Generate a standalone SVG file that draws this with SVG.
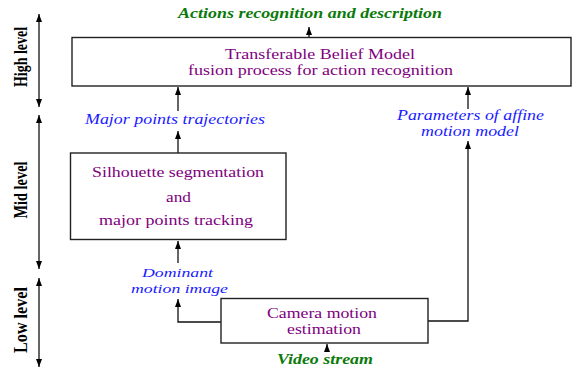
<svg xmlns="http://www.w3.org/2000/svg" width="572" height="367" viewBox="0 0 572 367">
<defs>
<marker id="ah" viewBox="0 0 8 6" refX="8" refY="3" markerWidth="8" markerHeight="6" orient="auto-start-reverse" markerUnits="userSpaceOnUse">
<path d="M0,0 L8,3 L0,6 Z" fill="#000"/>
</marker>
<style>
.box{fill:#fff;stroke:#222;stroke-width:1.4}
.ln{fill:none;stroke:#111;stroke-width:1.3}
text{font-family:'Liberation Serif','DejaVu Serif',serif}
.pt{font-size:15.5px;fill:#800080}
.bl{font-style:italic;font-size:15.5px;fill:#1a1aff}
.sm{font-size:13.5px}
.gr{font-style:italic;font-weight:bold;font-size:14.5px;fill:#0b7a0b}
.lv{font-weight:bold;font-size:15px;fill:#000}
</style>
</defs>
<rect width="572" height="367" fill="#fff"/>

<g id="levels">
<line class="ln" x1="39" y1="14" x2="39" y2="107" marker-start="url(#ah)" marker-end="url(#ah)"/>
<line class="ln" x1="39" y1="115" x2="39" y2="269" marker-start="url(#ah)" marker-end="url(#ah)"/>
<line class="ln" x1="39" y1="278" x2="39" y2="367" marker-start="url(#ah)" marker-end="url(#ah)"/>
<text class="lv" transform="translate(27,57) scale(1.2,1) rotate(-90)" text-anchor="middle" textLength="60" lengthAdjust="spacingAndGlyphs">High level</text>
<text class="lv" transform="translate(27,190) scale(1.2,1) rotate(-90)" text-anchor="middle" textLength="57" lengthAdjust="spacingAndGlyphs">Mid level</text>
<text class="lv" transform="translate(27,320) scale(1.2,1) rotate(-90)" text-anchor="middle" textLength="66" lengthAdjust="spacingAndGlyphs">Low level</text>
</g>

<g id="connectors">
<line class="ln" x1="309" y1="37" x2="309" y2="27" marker-end="url(#ah)"/>
<line class="ln" x1="178" y1="111" x2="178" y2="87" marker-end="url(#ah)"/>
<line class="ln" x1="178" y1="153" x2="178" y2="131" marker-end="url(#ah)"/>
<line class="ln" x1="468" y1="109" x2="468" y2="87" marker-end="url(#ah)"/>
<polyline class="ln" points="428,321 468,321 468,141" marker-end="url(#ah)"/>
<line class="ln" x1="178" y1="263" x2="178" y2="241" marker-end="url(#ah)"/>
<polyline class="ln" points="221,322 178,322 178,299" marker-end="url(#ah)"/>
<line class="ln" x1="327" y1="352" x2="327" y2="344" marker-end="url(#ah)"/>
</g>

<g id="title">
<text class="gr" x="178" y="18" textLength="264" lengthAdjust="spacingAndGlyphs">Actions recognition and description</text>
</g>

<g id="tbm">
<rect class="box" x="72" y="37.5" width="499" height="48.5"/>
<text class="pt" x="225" y="59" textLength="190" lengthAdjust="spacingAndGlyphs">Transferable Belief Model</text>
<text class="pt" x="188" y="75" textLength="265" lengthAdjust="spacingAndGlyphs">fusion process for action recognition</text>
</g>

<g id="trajectories">
<text class="bl" x="85" y="124" textLength="180" lengthAdjust="spacingAndGlyphs">Major points trajectories</text>
</g>

<g id="affine">
<text class="bl" x="397" y="120" textLength="147" lengthAdjust="spacingAndGlyphs">Parameters of affine</text>
<text class="bl" x="421" y="136" textLength="98" lengthAdjust="spacingAndGlyphs">motion model</text>
</g>

<g id="silhouette">
<rect class="box" x="70.5" y="153" width="215.5" height="86.5"/>
<text class="pt" x="92" y="177" textLength="172" lengthAdjust="spacingAndGlyphs">Silhouette segmentation</text>
<text class="pt" x="166" y="202" textLength="25" lengthAdjust="spacingAndGlyphs">and</text>
<text class="pt" x="99" y="225" textLength="154" lengthAdjust="spacingAndGlyphs">major points tracking</text>
</g>

<g id="dominant">
<text class="bl sm" x="142" y="277" textLength="71" lengthAdjust="spacingAndGlyphs">Dominant</text>
<text class="bl sm" x="131" y="292.5" textLength="97" lengthAdjust="spacingAndGlyphs">motion image</text>
</g>

<g id="camera">
<rect class="box" x="221" y="298.5" width="207" height="44.5"/>
<text class="pt" x="267" y="318" textLength="110" lengthAdjust="spacingAndGlyphs">Camera motion</text>
<text class="pt" x="287" y="334" textLength="74" lengthAdjust="spacingAndGlyphs">estimation</text>
</g>

<g id="video">
<text class="gr" x="277" y="364" textLength="96" lengthAdjust="spacingAndGlyphs">Video stream</text>
</g>
</svg>
